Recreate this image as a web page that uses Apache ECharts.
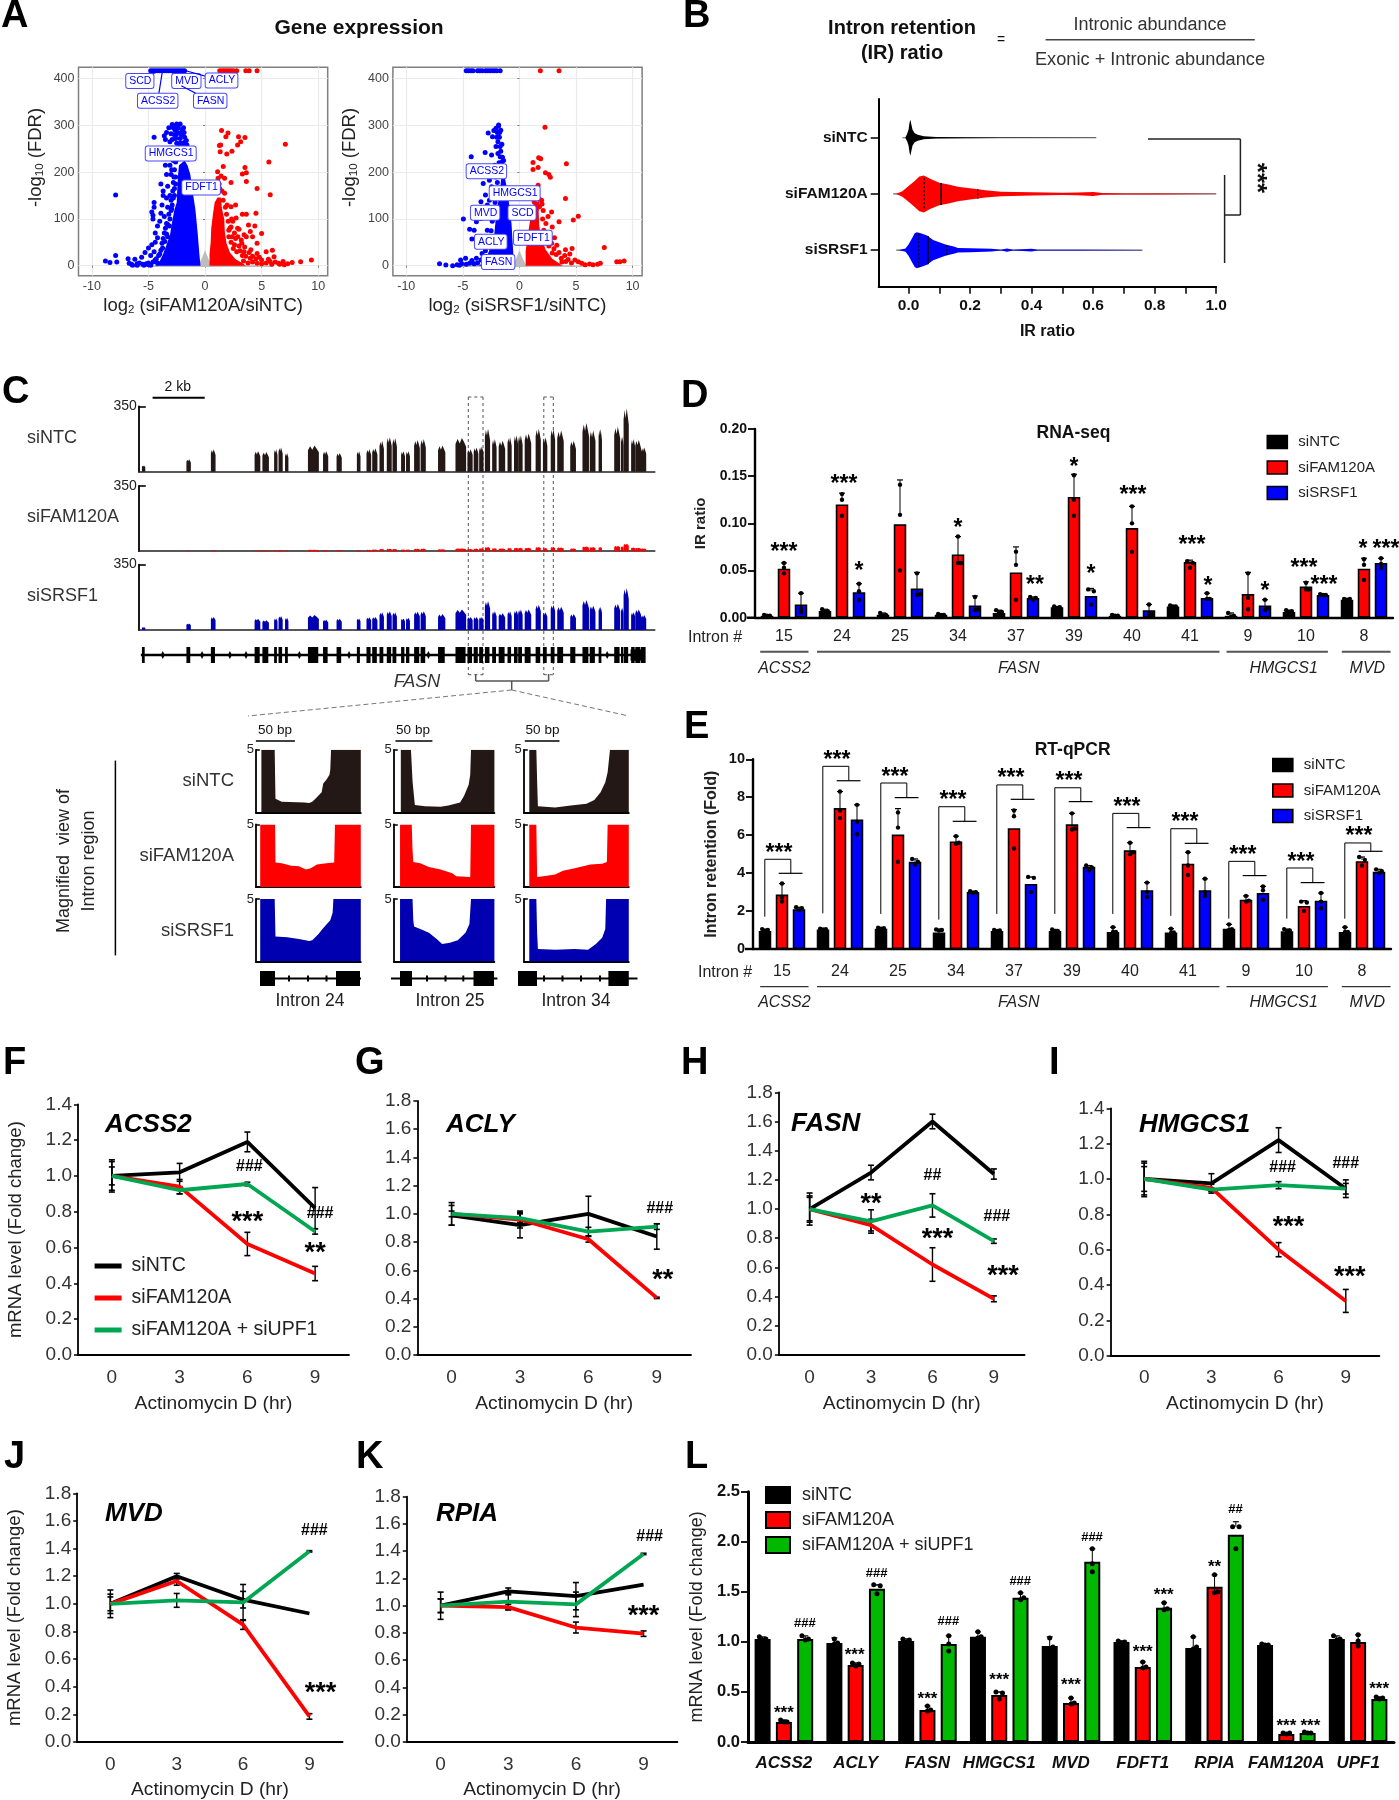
<!DOCTYPE html>
<html>
<head>
<meta charset="utf-8">
<title>FAM120A figure</title>
<script src="https://cdn.jsdelivr.net/npm/echarts@6/dist/echarts.min.js"></script>
<style>
html,body{margin:0;padding:0;background:#fff}
#chart{width:1399px;height:1800px}
</style>
</head>
<body>
<div id="chart"></div>
<script>
// ---- panel A, values
var top1Blue = [-4.8,-4.6,-4.4,-4.2,-4,-3.8,-3.6,-3.4,-3.2,-3,-2.8,-2.6,-2.4,-2.2,-2,-1.8];
var top1Red = [1.3,1.5,1.7,1.9,2.1,2.3,2.5,2.8,3.6,3.9,4.6];
var top2Blue = [-4.7,-4.5,-4.3,-4.1,-3.7,-3.5,-3.3,-3,-2.8,-2.6,-2.4,-2.2,-2,-1.7];
var top2Red = [1.85,3.5];
var blob1Blue = [[-4.4,0],[-4,10],[-3.7,25],[-3.4,45],[-3.1,65],[-2.9,95],[-2.7,120],[-2.5,135],[-2.45,165],[-2.4,190],[-2.3,215],[-1.8,225],[-1.55,215],[-1.3,195],[-1.1,160],[-0.85,120],[-0.65,70],[-0.5,25],[-0.4,0]];
var blob1Red = [[0.4,0],[0.4,25],[0.5,50],[0.55,80],[0.7,110],[0.85,135],[1.1,146],[1.4,146],[1.5,122],[1.7,100],[1.75,72],[1.9,48],[2.2,28],[2.7,14],[3.3,6],[3.6,0]];
var blob2Blue = [[-3.6,0],[-3.1,8],[-2.9,18],[-2.55,40],[-2.25,60],[-2.15,85],[-2.05,110],[-1.85,140],[-1.7,165],[-1.6,190],[-1.65,210],[-1.4,210],[-1.3,190],[-1.1,165],[-0.9,130],[-0.7,90],[-0.6,50],[-0.5,10],[-0.5,0]];
var blob2Red = [[0.55,0],[0.55,30],[0.7,60],[0.9,90],[1.1,120],[1.3,136],[1.8,138],[1.7,115],[1.75,85],[1.95,60],[2.3,35],[2.9,15],[3.5,5],[3.8,0]];
var greyFan = [[-6,0],[-0.55,3],[-0.3,15],[0,33],[0.3,15],[0.55,3],[6,0],[6,-3],[-6,-3]];
var dots1Blue = [[-8.8,10],[-8.4,7],[-7.9,22],[-7.8,8],[-7.9,151],[-6.8,15],[-6.7,5],[-6.5,3],[-6.2,14],[-6,4],[-5.6,18],[-5.5,3],[-5.2,4],[-5,2],[-5.3,28],[-5,38],[-4.8,22],[-4.7,45],[-4.5,30],[-4.4,50],[-4.6,100],[-4.7,115],[-4.5,125],[-4.5,135],[-4.6,108],[-4.4,70],[-4.2,60],[-4.2,85],[-4,95],[-3.9,112],[-3.8,130],[-3.7,150],[-3.7,160],[-3.9,175],[-3.5,80],[-3.6,105],[-3.3,125],[-3.4,145],[-3.3,170],[-3.4,195],[-3.5,215],[-3.3,235],[-4.5,275],[-3.5,270],[-3.6,278],[-3.4,285],[-3.2,295],[-2.9,302],[-2.7,298],[-2.5,303],[-2.2,303],[-2,290],[-2.4,285],[-2,280],[-1.8,275],[-2.9,270],[-2.7,280],[-2.2,272],[-1.9,262],[-2.5,262],[-2.9,252],[-1.6,258],[-3.1,215],[-3,195],[-2.8,178],[-3.1,150],[-3,140],[-2.7,150],[-3.2,110],[-3.4,90],
    [-6.4,1],[-6,1],[-5.8,6],[-5.4,1],[-5,6],[-4.8,1],[-4.6,8],[-4.4,12],[-4.2,6],[-4.1,22],[-3.9,33],[-3.8,48],[-3.7,58],[-3.6,70],[-3.4,68],[-3.3,88],[-3.1,100],[-3,118],[-2.9,130],[-2.8,145],[-2.7,165],[-2.6,190],[-2.7,205],[-2.8,225],[-2.6,222],[-2.5,240],[-2.3,235],[-2.2,250],[-2.05,240],[-2,262],[-1.85,245],[-1.7,240],[-1.55,235],[-1.5,228],[-2.4,228],[-2.1,232],[-2.3,255],[-1.75,255],[-1.65,268],[-2.6,272],[-2.35,295],[-2.65,290],[-1.9,295],[-2.8,295],
    [-2.2,262],[-2.45,250],[-2.7,240],[-2,250],[-1.95,232],[-2.15,282],[-1.75,265],[-2.55,280],[-1.85,285],[-3,282],[-3.1,265],[-2.85,238],[-2.95,205],[-2.75,190],[-2.6,175],[-2.85,160],[-2.95,122],[-3.15,85],[-3.3,62],[-3.55,52],[-3.75,38],[-4,25],[-4.3,15]];
var dots1Red = [[1.46,289],[2.03,284],[1.84,276],[2.96,276],[3.53,274],[3.15,265],[2.88,258],[1.38,258],[1.27,257],[7.1,260],[1.34,244],[2.38,245],[1.92,239],[5.64,222],[1.61,212],[3.53,210],[3.65,199],[3.3,196],[1.11,201],[1.42,192],[1.15,187],[1.73,187],[2.3,178],[3.65,180],[4.6,165],[5.76,152],[1.73,155],[2.7,130],[2.3,126],[3.3,110],[3.65,110],[4.5,112],[3.84,87],[4.4,85],[2.3,83],[2.88,80],[2.1,76],[4,73],[5,69],[3.45,66],[4.2,62],[2.7,58],[4.6,48],[5.4,30],[5.95,33],[6.1,19],[4.6,26],[6.9,9],[7.7,7],[8.45,8.5],[9.4,12],[3.25,48],[2.5,37],[3.45,30],[4,16],[5,12],[5.75,9],[6.5,5],
    [1.1,160],[1.3,165],[1.5,160],[1.25,175],[1.6,140],[1.8,125],[1.9,110],[2.05,95],[2.2,80],[2.1,62],[2.4,62],[2.6,70],[2.9,62],[2.3,50],[2.6,45],[3,42],[3.2,55],[3.5,40],[2.8,30],[3.1,32],[3.3,22],[3.6,20],[3.9,28],[4.2,20],[4.5,15],[4.8,18],[3.4,10],[3.8,6],[4.2,8],[4.6,5],[5,4],[5.4,6],[5.6,14],[5.9,3],[6.2,8],[6.6,3],[7,2],[7.3,4],[4.05,34],[2.45,95],[2.75,102],[1.95,130],[2.35,100],[3,78],[3.65,62]];
var dots2Blue = [[-7.06,4],[-6.5,1.5],[-5.9,0],[-5.3,1],[-5.2,12],[-4.76,16],[-4.2,11],[-3.8,16],[-3.3,26],[-4.95,100],[-3.8,94],[-4.4,78],[-4,76],[-4.2,57],[-3.4,137],[-2.84,130],[-3,151],[-2.65,140],[-4.26,233],[-3.03,242],[-2.76,284],[-2.26,289],[-2.07,294],[-1.84,299],[-1.84,301],[-2,275],[-1.77,275],[-2.38,276],[-2.07,255],[-1.7,255],[-1.9,240],[-2.46,237],[-1.7,233],[-3,197],[-3.2,176],[-2.65,183],[-2.46,169],[-3.4,101],[-2.84,76],[-2.2,215],[-2.5,205],[-2.1,190],[-2.4,150],[-2.7,110],[-3,60],
    [-5.5,2],[-5.1,4],[-4.7,3],[-4.4,5],[-4,4],[-3.7,6],[-3.4,12],[-3.2,18],[-3,32],[-2.8,45],[-2.6,55],[-2.5,75],[-2.4,95],[-2.3,120],[-2.15,135],[-2.1,160],[-1.95,178],[-1.9,200],[-1.8,220],[-1.55,222],[-1.5,232],[-1.4,225],[-1.65,245],[-1.9,265],[-1.55,260],[-1.75,285],[-1.95,285],[-1.65,290],[-1.35,212]];
var dots2Red = [[2.26,296],[1.7,231],[1.88,229],[1.2,221],[4.15,218],[1.65,210],[1.2,206],[2.3,199],[2.6,195],[2.73,189],[1.65,172],[4.07,144],[1.96,140],[1.3,137],[1.77,126],[2.84,115],[5.2,106],[4.76,98],[3.5,94],[2.53,105],[2.34,90],[2.9,83],[2.15,76],[7.5,39],[4.65,37],[4.07,34],[3.3,44],[4.45,25],[5.2,8.5],[6.2,3.5],[7.15,5],[8.6,8.5],[8.87,8.5],[9.25,10],[2.9,27],[3.7,16],[4.1,9],
    [1.5,145],[1.75,142],[2,132],[2.1,118],[2.05,100],[2.2,70],[2.45,55],[2.6,42],[2.85,48],[3.05,36],[3.25,24],[3.5,28],[3.75,8],[4,22],[4.3,13],[4.6,6],[4.9,12],[5.5,5],[5.8,2],[6.5,2],[6.9,3],[2.65,65],[3.1,60]];
var genes1 = [['SCD',-5.76,395,-4.1,417],['ACSS2',-4.18,353,-3.76,417],['MVD',-1.65,395,-3.2,417],['ACLY',1.46,396,-1.7,417],['FASN',0.46,353,-2.1,385],['HMGCS1',-3.03,240],['FDFT1',-0.35,167.5]];
var genes2 = [['ACSS2',-2.92,202],['HMGCS1',-0.42,155],['MVD',-3.03,113],['SCD',0.23,113],['ACLY',-2.53,51],['FDFT1',1.19,60],['FASN',-1.88,8]];

// ---- panel B, violin outlines: [IR ratio, half height in rows]
var violinNTC = [[-0.01,0.01],[-0.005,0.06],[0,0.14],[0.003,0.26],[0.006,0.32],[0.009,0.24],[0.013,0.14],[0.02,0.08],[0.03,0.055],[0.05,0.025],[0.09,0.012],[0.18,0.01],[0.3,0.004],[0.61,0.002]];
var violinFAM = [[-0.04,0.002],[-0.02,0.05],[0,0.14],[0.02,0.23],[0.035,0.31],[0.05,0.33],[0.07,0.27],[0.1,0.2],[0.13,0.17],[0.16,0.13],[0.2,0.1],[0.25,0.065],[0.3,0.04],[0.4,0.028],[0.5,0.02],[0.55,0.025],[0.6,0.035],[0.63,0.015],[0.7,0.01],[0.8,0.008],[1,0.002]];
var violinSRSF = [[-0.03,0.002],[-0.01,0.03],[0,0.1],[0.01,0.2],[0.02,0.3],[0.027,0.32],[0.04,0.3],[0.06,0.26],[0.08,0.18],[0.1,0.14],[0.12,0.1],[0.15,0.06],[0.16,0.04],[0.2,0.035],[0.27,0.025],[0.3,0.008],[0.32,0.03],[0.34,0.008],[0.4,0.025],[0.42,0.008],[0.55,0.006],[0.76,0.002]];
var violinMarksFAM = [[0.051,0.28,1],[0.106,0.195,0],[0.225,0.085,1]];
var violinMarksSRSF = [[0.033,0.3,1],[0.063,0.25,0],[0.124,0.09,1]];

// ---- panel C, FASN exons in kb and peak height per sample
var fasnExons = [[0.12,0.25],[1.83,2],[2.77,2.95],[4.45,4.67],[4.75,5],[5.2,5.33],[5.37,5.53],[5.62,5.75],[6.5,6.92],[7.08,7.28],[7.6,7.8],[8.38,8.52],[8.75,8.93],[8.97,9.17],[9.25,9.42],[9.53,9.72],[9.75,9.92],[10.08,10.23],[10.27,10.42],[10.58,10.8],[10.83,11.03],[11.5,11.78],[12.17,12.58],[12.63,12.83],[12.87,13.05],[13.08,13.25],[13.3,13.5],[13.58,13.75],[13.83,14.08],[14.17,14.33],[14.42,14.58],[14.58,14.75],[14.83,15.08],[15.25,15.45],[15.53,15.7],[15.83,16],[16.08,16.33],[16.58,16.8],[17.05,17.3],[17.33,17.55],[17.67,17.8],[18.27,18.5],[18.53,18.63],[18.63,18.83],[18.92,19.08],[19.08,19.3],[19.3,19.5]];
var smallExons = [0.92,2.43,3.5,4.12,6.17,8.08,11.13,18];
var peakNTC = [33,66,120,110,105,120,130,100,140,110,100,110,120,125,165,185,180,110,110,170,175,140,180,120,130,135,230,175,165,185,195,195,205,230,185,230,220,165,260,220,230,240,190,340,175,170,130];
var peakFAM = [1,2,4,4,4,5,6,5,8,6,6,7,8,9,12,13,12,9,9,13,14,11,15,12,14,16,22,16,15,17,18,18,18,22,17,22,20,15,25,22,22,28,26,40,20,18,15];
var peakSRSF = [15,35,70,60,52,62,75,65,80,55,60,62,68,70,95,100,95,62,65,98,100,85,110,70,70,70,155,100,90,100,105,110,110,135,95,135,125,85,160,130,125,140,120,225,95,110,80];
var cov24NTC = [[7,0],[7,5],[24,5],[25,1.1],[33,0.85],[62,0.8],[68,0.75],[72,0.85],[76,1.1],[84,1.6],[86,2.3],[90,2.6],[94,3],[95,3.4],[96,5],[134,5],[134,0]];
var cov24FAM = [[5.5,0],[5.5,5],[24.5,5],[25,1.95],[33,1.9],[45,1.7],[55,1.65],[64,1.4],[70,1.5],[78,1.8],[90,1.9],[100,1.95],[101,5],[134,5],[134,0]];
var cov24SRSF = [[5.5,0],[5.5,5],[24,5],[25,2],[40,1.95],[55,1.8],[68,1.65],[72,1.7],[80,2.2],[85,2.6],[95,3.3],[98,3.9],[99,5],[134,5],[134,0]];
var cov25NTC = [[9,0],[9,5],[22,5],[24,2.5],[27,0.6],[40,0.5],[60,0.45],[70,0.55],[85,0.8],[90,1.3],[96,2.2],[98,3],[99,5],[129,5],[129,0]];
var cov25FAM = [[8,0],[8,5],[23,5],[24,3],[25,2],[34,1.9],[45,1.6],[60,1.4],[75,1.1],[80,0.85],[98,0.8],[99,5],[129,5],[129,0]];
var cov25SRSF = [[8,0],[8,5],[24,5],[25,3.3],[26,2.8],[34,2.6],[45,2.3],[55,1.8],[62,1.4],[72,1.5],[82,1.7],[92,2.3],[97,3],[99,5],[129,5],[129,0]];
var cov34NTC = [[7,0],[7,5],[16,5],[17,2.5],[18,0.5],[40,0.4],[60,0.55],[80,0.7],[90,1],[98,1.6],[104,2.4],[107,3.2],[110,5],[134,5],[134,0]];
var cov34FAM = [[7,0],[7,5],[16,5],[17,0.8],[25,0.85],[40,1],[50,1.3],[65,1.5],[85,1.8],[100,1.85],[106,2],[107,5],[134,5],[134,0]];
var cov34SRSF = [[7,0],[7,5],[16,5],[17,2.3],[18,1],[40,0.95],[65,1],[82,0.95],[92,1.4],[100,1.9],[104,2.6],[105,5],[134,5],[134,0]];

// ---- panels D and E
var intronLabels = ['15','24','25','34','37','39','40','41','9','10','8'];
var dNTC = [0.002,0.007,0.003,0.003,0.005,0.011,0.002,0.012,0.002,0.006,0.019];
var dFAM = [0.052,0.12,0.099,0.067,0.048,0.128,0.095,0.059,0.025,0.033,0.052];
var dSRSF = [0.014,0.027,0.031,0.013,0.021,0.023,0.008,0.021,0.013,0.024,0.058];
var dNTCup = [0.003,0.009,0.005,0.004,0.008,0.012,0.003,0.013,0.005,0.008,0.02];
var dFAMup = [0.058,0.132,0.146,0.086,0.075,0.152,0.118,0.061,0.048,0.038,0.063];
var dSRSFup = [0.026,0.036,0.048,0.023,0.022,0.031,0.014,0.026,0.019,0.025,0.063];
var dNTCdots = [[0.003,0.002,0.002],[0.009,0.007,0.006],[0.005,0.003,0.002],[0.004,0.003,0.003],[0.008,0.006,0.005],[0.012,0.011,0.01],[0.003,0.002,0.002],[0.013,0.012,0.012],[0.005,0.002,0.001],[0.008,0.007,0.006],[0.02,0.02,0.019]];
var dFAMdots = [[0.058,0.053,0.047],[0.131,0.125,0.108],[0.141,0.109,0.05],[0.086,0.058,0.058],[0.07,0.056,0.019],[0.151,0.125,0.108],[0.118,0.1,0.07],[0.06,0.058,0.053],[0.047,0.021,0.009],[0.037,0.03,0.03],[0.062,0.056,0.04]];
var dSRSFdots = [[0.026,0.01,0.006],[0.036,0.028,0.019],[0.047,0.025,0.024],[0.022,0.009,0.008],[0.022,0.021,0.019],[0.03,0.028,0.014],[0.014,0.004,0.004],[0.026,0.02,0.02],[0.019,0.01,0.008],[0.025,0.024,0.024],[0.063,0.057,0.053]];
var dStars = [[0,0.074,'***',0],[1,0.146,'***',2],[1,0.054,'*',17],[3,0.099,'*',0],[5,0.164,'*',0],[5,0.05,'*',17],[4,0.039,'**',19],[6,0.134,'***',1],[7,0.081,'***',2],[7,0.038,'*',18],[8,0.033,'*',17],[9,0.057,'***',-2],[9,0.039,'***',18],[10,0.077,'*',-1],[10,0.077,'***',22]];

var eNTC = [0.95,1.03,1.07,0.87,0.95,0.95,0.9,0.87,1.07,0.93,0.9];
var eFAM = [2.87,7.43,6.03,5.67,6.37,6.57,5.2,4.5,2.6,2.27,4.63];
var eSRSF = [2.1,6.83,4.6,3,3.43,4.33,3.1,3.1,2.95,2.55,4.07];
var eNTCup = [1.05,1.07,1.12,1.05,1,1.03,1.15,1.07,1.3,1.05,1.15];
var eFAMup = [3.45,8.3,7.4,5.95,7.35,7.15,5.6,5.1,2.8,2.55,4.85];
var eSRSFup = [2.2,7.6,4.75,3.05,3.8,4.4,3.5,3.7,3.3,2.95,4.2];
var eNTCdots = [[1.05,1,0.95],[1.07,1.05,1.03],[1.12,1.1,1.07],[1.03,1,0.97],[1,0.98,0.95],[1.03,0.95,0.95],[1.15,0.9,0.9],[1.07,0.87,0.85],[1.3,1.05,1],[1.05,0.98,0.95],[1.15,0.9,0.9]];
var eFAMdots = [[3.45,2.7,2.5],[8.3,7.3,6.9],[7.2,6.4,4.6],[5.95,5.6,5.55],[7.3,7,5.3],[7.15,6.35,6.3],[5.6,5.1,5],[5.1,4.4,3.9],[2.8,2.55,2.5],[2.5,2.45,2],[4.85,4.7,4.4]];
var eSRSFdots = [[2.2,2.15,2.05],[7.6,6.7,6.05],[4.75,4.6,4.45],[3.05,3,2.95],[3.8,3.75,3],[4.4,4.3,4.15],[3.5,3,2.75],[3.7,3,2.8],[3.3,3.1,2.6],[2.95,2.5,2.15],[4.2,4.1,4]];
var eBracketTop = [4.73,9.63,8.75,7.5,8.65,8.5,7.15,6.34,4.62,4.27,5.59];
var eBracketMid = [3.99,8.87,7.98,6.73,7.89,7.77,6.4,5.57,3.87,3.5,5.15];
var eBracketLow = [1.7,1.88,1.85,1.55,1.85,1.85,1.85,1.75,1.6,1.6,1.6];

// ---- panels F to K, decay curves
var hours = ['0','3','6','9'];
var fNTC = [1,1.02,1.19,0.82], fFAM = [1,0.94,0.62,0.455], fUPF = [1,0.92,0.955,0.69];
var fNTCerr = [0.09,0.05,0.055,0.115], fFAMerr = [0.05,0.04,0.065,0.04], fUPFerr = [0.08,0.02,0.01,0.015];
var gNTC = [0.99,0.92,1,0.84], gFAM = [1,0.96,0.82,0.405], gUPF = [1,0.97,0.875,0.91];
var gNTCerr = [0.07,0.09,0.125,0.09], gFAMerr = [0.08,0.06,0.02,0.005], gUPFerr = [0.02,0.03,0.03,0.02];
var hNTC = [1,1.25,1.6,1.24], hFAM = [1,0.89,0.62,0.385], hUPF = [1,0.915,1.025,0.78];
var hNTCerr = [0.11,0.05,0.05,0.035], hFAMerr = [0.09,0.04,0.115,0.02], hUPFerr = [0.08,0.08,0.08,0.015];
var iNTC = [1,0.975,1.22,0.945], iFAM = [1,0.95,0.6,0.31], iUPF = [1,0.94,0.965,0.945];
var iNTCerr = [0.1,0.055,0.07,0.03], iFAMerr = [0.09,0.02,0.04,0.065], iUPFerr = [0.07,0.01,0.02,0.05];
var jNTC = [1,1.2,1.03,0.93], jFAM = [1,1.165,0.85,0.185], jUPF = [1,1.025,1.01,1.38];
var jNTCerr = [0.07,0.02,0.06,0], jFAMerr = [0.05,0.03,0.035,0.02], jUPFerr = [0.1,0.05,0.13,0.005];
var kNTC = [1,1.105,1.07,1.155], kFAM = [1,0.99,0.84,0.795], kUPF = [1,1.03,1.01,1.38];
var kNTCerr = [0.1,0.025,0.1,0], kFAMerr = [0.05,0.02,0.04,0.02], kUPFerr = [0.05,0.06,0.09,0.005];
var fMarks = [[2,1.05,'###',2],[2,0.77,'***',0],[3,0.79,'###',5],[3,0.595,'**',0]];
var gMarks = [[3,1.04,'###',3],[3,0.567,'**',6]];
var hMarks = [[1,1.07,'**',0],[2,1.23,'##',0],[2,0.827,'***',5],[3,0.948,'###',3],[3,0.575,'***',9]];
var iMarks = [[2,1.066,'###',4],[3,1.089,'###',0],[2,0.755,'***',10],[3,0.475,'***',4]];
var jMarks = [[3,1.53,'###',5],[3,0.39,'***',11]];
var kMarks = [[3,1.505,'###',6],[3,0.96,'***',0]];

// ---- panel L
var lGenes = ['ACSS2','ACLY','FASN','HMGCS1','MVD','FDFT1','RPIA','FAM120A','UPF1'];
var lNTC = [1.03,0.99,1.01,1.05,0.96,1,0.94,0.97,1.03];
var lFAM = [0.2,0.77,0.32,0.47,0.39,0.75,1.55,0.08,1];
var lUPF = [1.03,1.53,0.98,1.44,1.8,1.34,2.07,0.09,0.43];
var lNTCup = [1.05,1.04,1.03,1.1,1.05,1.01,1.05,0.98,1.06];
var lFAMup = [0.22,0.79,0.36,0.5,0.44,0.8,1.67,0.09,1.07];
var lUPFup = [1.06,1.57,1.06,1.49,1.93,1.39,2.2,0.1,0.45];
var lNTCdots = [[1.05,1.03,1.02],[1.03,0.99,0.98],[1.03,1.02,1],[1.1,1.05,1.04],[1.04,0.95,0.92],[1.01,1,0.99],[1.05,0.95,0.93],[0.98,0.97,0.97],[1.06,1.03,1.02]];
var lFAMdots = [[0.22,0.2,0.2],[0.79,0.78,0.76],[0.36,0.32,0.31],[0.5,0.49,0.43],[0.44,0.39,0.38],[0.8,0.75,0.74],[1.67,1.5,1.49],[0.09,0.09,0.08],[1.07,1.01,0.96]];
var lUPFdots = [[1.06,1.03,1.02],[1.57,1.56,1.48],[1.06,0.98,0.91],[1.49,1.44,1.42],[1.93,1.78,1.7],[1.39,1.33,1.32],[2.15,2.15,1.93],[0.1,0.09,0.09],[0.45,0.44,0.43]];
var lMarks = [[0,0.32,'***',0],[1,0.9,'***',-1],[2,0.46,'***',0],[3,0.65,'***',0],[4,0.6,'***',0],[5,0.925,'***',0],[6,1.78,'**',0],[7,0.19,'***',0],[0,1.185,'###',21],[1,1.68,'###',21],[2,1.2,'###',21],[3,1.6,'###',21],[4,2.04,'###',21],[5,1.5,'***',21],[6,2.32,'##',21],[7,0.19,'***',24],[8,0.56,'***',21]];

var FONT = 'Liberation Sans';
var RED = '#ff0000', BLUE = '#0000ff', DARKBLUE = '#0000b0', INK = '#231815';
var LINE_GREEN = '#00a651', BAR_GREEN = '#00b800';
var grids = [], xAxes = [], yAxes = [], series = [], legends = [], gfx = [];

function addGrid(left, top, width, height, xa, ya) {
    var i = grids.length;
    grids.push({left: left, top: top, width: width, height: height});
    xa.gridIndex = i; ya.gridIndex = i;
    xAxes.push(xa); yAxes.push(ya);
    return i;
}
// custom series with one item per entry of list; draw(entry, api, index) returns a graphic element
function overlay(gi, list, draw, z) {
    series.push({
        type: 'custom', coordinateSystem: 'cartesian2d', xAxisIndex: gi, yAxisIndex: gi,
        silent: true, z: z || 3, animation: false,
        data: list.map(function () { return [0, 0]; }),
        renderItem: function (params, api) { return draw(list[params.dataIndex], api, params.dataIndex); }
    });
}
function polygon(gi, pts, color, z) {
    overlay(gi, [pts], function (p, api) {
        return {type: 'polygon', shape: {points: p.map(function (v) { return api.coord(v); })}, style: {fill: color}};
    }, z);
}
function seg(a, b, stroke, w) {
    return {type: 'line', shape: {x1: a[0], y1: a[1], x2: b[0], y2: b[1]}, style: {stroke: stroke || '#000', lineWidth: w || 1}};
}
// ---- fixed annotations placed on the page
function gText(x, y, s, size, opt) {
    opt = opt || {};
    gfx.push({type: 'text', x: x, y: y, rotation: opt.rot || 0, silent: true, style: {
        text: s, fontFamily: FONT, fontSize: size, fontWeight: opt.bold ? 'bold' : 'normal',
        fontStyle: opt.italic ? 'italic' : 'normal', fill: opt.color || '#111',
        align: opt.align || 'center', verticalAlign: 'middle'}});
}
function gLine(x1, y1, x2, y2, color, w, dash) {
    gfx.push({type: 'line', silent: true, shape: {x1: x1, y1: y1, x2: x2, y2: y2},
        style: {stroke: color || '#000', lineWidth: w || 1, lineDash: dash || null}});
}
function gRect(x, y, w, h, fill) {
    gfx.push({type: 'rect', silent: true, shape: {x: x, y: y, width: w, height: h}, style: {fill: fill || '#000'}});
}

// ---- panel letters
[['A',1,17],['B',683,17],['C',2,393],['D',681,397],['E',684,728],['F',3,1064],['G',355,1064],['H',681,1064],['I',1049,1064],['J',4,1458],['K',356,1458],['L',685,1458]].forEach(function (l) {
    gText(l[1], l[2], l[0], 38, {bold: true, align: 'left', color: '#000'});
});

// ---- panel A
gText(359, 28, 'Gene expression', 21, {bold: true});
function volcano(left, xName, blobBlue, blobRed, dotsBlue, dotsRed, topBlue, topRed, genes) {
    var gridLine = {show: true, lineStyle: {color: '#ebebeb', width: 1.2}};
    var richName = {t: {fontFamily: FONT, fontSize: 18.5, color: '#222'}, s: {fontFamily: FONT, fontSize: 11.5, color: '#222', padding: [7, 0, 0, 0]}};
    var tickFont = {fontFamily: FONT, fontSize: 12.5, color: '#444', margin: 4};
    var gi = addGrid(left, 67.3, 249.2, 208.4, {
        type: 'value', min: -11.18, max: 10.84, name: xName, nameLocation: 'middle', nameGap: 21,
        nameTextStyle: {rich: richName}, axisLine: {show: false},
        axisLabel: Object.assign({customValues: [-10, -5, 0, 5, 10]}, tickFont),
        axisTick: {customValues: [-10, -5, 0, 5, 10], length: 2, lineStyle: {color: '#777'}}, splitLine: gridLine
    }, {
        type: 'value', min: -21.4, max: 424.4, name: '{t|-log}{s|10}{t| (FDR)}', nameLocation: 'middle', nameGap: 33,
        nameTextStyle: {rich: richName, padding: [0, 0, 0, 28]}, axisLine: {show: false},
        axisLabel: Object.assign({customValues: [0, 100, 200, 300, 400]}, tickFont),
        axisTick: {customValues: [0, 100, 200, 300, 400], length: 2, lineStyle: {color: '#777'}}, splitLine: gridLine
    });
    grids[gi].show = true; grids[gi].borderColor = '#7f7f7f'; grids[gi].borderWidth = 1.5; grids[gi].backgroundColor = '#fff';
    function dots(name, pts, color) {
        series.push({name: name, type: 'scatter', xAxisIndex: gi, yAxisIndex: gi, data: pts, symbolSize: 5, z: 4,
            itemStyle: {color: color, opacity: 1}, silent: true});
    }
    polygon(gi, greyFan, '#bdbdbd', 2);
    polygon(gi, blobBlue, BLUE, 3);
    polygon(gi, blobRed, RED, 3);
    dots('down', dotsBlue.concat(topBlue.map(function (x) { return [x, 417]; })), BLUE);
    dots('up', dotsRed.concat(topRed.map(function (x) { return [x, 417]; })), RED);
    overlay(gi, genes, function (g, api) {
        var p = api.coord([g[1], g[2]]);
        var children = [];
        if (g.length > 3) children.push(seg(p, api.coord([g[3], g[4]]), BLUE, 1.2));
        children.push({type: 'text', x: p[0], y: p[1], style: {
            text: g[0], fontFamily: FONT, fontSize: 10.5, fill: BLUE, align: 'center', verticalAlign: 'middle',
            backgroundColor: '#fff', borderColor: '#4a4aff', borderWidth: 1, borderRadius: 2, padding: [2, 2, 1, 3]}});
        return {type: 'group', children: children};
    }, 6);
}
volcano(78.5, '{t|log}{s|2}{t| (siFAM120A/siNTC)}', blob1Blue, blob1Red, dots1Blue, dots1Red, top1Blue, top1Red, genes1);
volcano(392.9, '{t|log}{s|2}{t| (siSRSF1/siNTC)}', blob2Blue, blob2Red, dots2Blue, dots2Red, top2Blue, top2Red, genes2);

// ---- panel B
gText(902, 28, 'Intron retention', 20, {bold: true});
gText(902, 53, '(IR) ratio', 20, {bold: true});
gText(1001, 40, '=', 14);
gText(1150, 25, 'Intronic abundance', 18, {color: '#333'});
gLine(1045.6, 39.7, 1254.8, 39.7, '#444', 1.5);
gText(1150, 60, 'Exonic + Intronic abundance', 18.2, {color: '#333'});
var violinRows = ['siNTC', 'siFAM120A', 'siSRSF1'];
var bGi = addGrid(878.7, 99, 337.5, 187.7, {
    type: 'value', min: -0.097, max: 1, name: 'IR ratio', nameLocation: 'middle', nameGap: 37,
    nameTextStyle: {fontFamily: FONT, fontSize: 16, fontWeight: 'bold', color: '#111'},
    axisLine: {lineStyle: {color: '#000', width: 2}},
    axisTick: {customValues: [0, 0.1, 0.2, 0.3, 0.4, 0.5, 0.6, 0.7, 0.8, 0.9, 1], length: 7, lineStyle: {color: '#000', width: 1.5}},
    axisLabel: {customValues: [0, 0.2, 0.4, 0.6, 0.8, 1], fontFamily: FONT, fontSize: 15.5, fontWeight: 'bold', color: '#111', margin: 11, formatter: function (v) { return v.toFixed(1); }},
    splitLine: {show: false}
}, {
    type: 'value', inverse: true, min: 0.311, max: 3.65,
    axisLine: {onZero: false, lineStyle: {color: '#000', width: 2}},
    axisTick: {customValues: [1, 2, 3], length: 8, lineStyle: {color: '#000', width: 1.5}},
    axisLabel: {customValues: [1, 2, 3], fontFamily: FONT, fontSize: 15.5, fontWeight: 'bold', color: '#111', margin: 11, formatter: function (v) { return violinRows[v - 1]; }},
    splitLine: {show: false}
});
function violin(row, outline, marks, color) {
    overlay(bGi, [outline], function (o, api) {
        var upper = o.map(function (v) { return api.coord([v[0], row - v[1]]); });
        var lower = o.map(function (v) { return api.coord([v[0], row + v[1]]); }).reverse();
        var children = [
            seg(api.coord([o[0][0] - 0.01, row]), api.coord([o[o.length - 1][0], row]), '#666', 1.2),
            {type: 'polygon', shape: {points: upper.concat(lower)}, style: {fill: color}}
        ];
        marks.forEach(function (m) {
            var s = seg(api.coord([m[0], row - m[1]]), api.coord([m[0], row + m[1]]), '#000', m[2] ? 1.2 : 1.6);
            if (m[2]) s.style.lineDash = [2, 2];
            children.push(s);
        });
        return {type: 'group', children: children};
    });
}
violin(1, violinNTC, [], '#000');
violin(2, violinFAM, violinMarksFAM, RED);
violin(3, violinSRSF, violinMarksSRSF, BLUE);
gLine(1148, 139, 1240.4, 139, '#222', 1.5);
gLine(1240.4, 139, 1240.4, 215, '#222', 1.5);
gLine(1224.6, 215, 1240.4, 215, '#222', 1.5);
gLine(1224.6, 175, 1224.6, 263, '#222', 1.5);
gText(1256, 178, '***', 26, {bold: true, rot: -Math.PI / 2});

// ---- panel C, read tracks
gText(177.8, 387, '2 kb', 14);
gLine(152.6, 397.8, 204.7, 397.8, '#000', 2);
gText(27, 438.4, 'siNTC', 18, {align: 'left', color: '#333'});
gText(27, 517, 'siFAM120A', 18, {align: 'left', color: '#333'});
gText(27, 596, 'siSRSF1', 18, {align: 'left', color: '#333'});
function track(top, heights, color) {
    var gi = addGrid(138.8, top, 516, 65.4, {
        type: 'value', min: 0, max: 19.83, show: true, axisLine: {onZero: true, lineStyle: {color: '#222', width: 1.6}},
        axisTick: {show: false}, axisLabel: {show: false}, splitLine: {show: false}
    }, {
        type: 'value', min: 0, max: 350, axisLine: {lineStyle: {color: '#000', width: 1.8}},
        axisTick: {customValues: [350], inside: true, length: 7, lineStyle: {color: '#000', width: 1.6}},
        axisLabel: {customValues: [350], fontFamily: FONT, fontSize: 14, color: '#222', margin: 2},
        splitLine: {show: false}
    });
    overlay(gi, fasnExons, function (e, api, i) {
        var h = heights[i];
        var a = e[0], w = e[1] - e[0];
        return {type: 'polygon', shape: {points: [
            api.coord([a, 0]), api.coord([a, h * 0.82]), api.coord([a + w * 0.2, h * 0.97]), api.coord([a + w * 0.4, h * 0.84]),
            api.coord([a + w * 0.6, h]), api.coord([a + w * 0.8, h * 0.88]), api.coord([a + w, h * 0.74]), api.coord([a + w, 0])]}, style: {fill: color}};
    });
}
track(406.3, peakNTC, INK);
track(485.8, peakFAM, RED);
track(564.6, peakSRSF, DARKBLUE);
var geneGi = addGrid(138.8, 647, 516, 16, {
    type: 'value', min: 0, max: 19.83, show: false
}, {type: 'value', min: 0, max: 1, show: false});
overlay(geneGi, fasnExons, function (e, api) {
    var a = api.coord([e[0], 1]), b = api.coord([e[1], 0]);
    return {type: 'rect', shape: {x: a[0], y: a[1], width: Math.max(b[0] - a[0] - 0.6, 2), height: b[1] - a[1]}, style: {fill: '#000'}};
});
overlay(geneGi, smallExons, function (x, api) {
    var c = api.coord([x, 0.5]);
    return {type: 'polygon', shape: {points: [[c[0] - 2, c[1]], [c[0], c[1] - 4], [c[0] + 2, c[1]], [c[0], c[1] + 4]]}, style: {fill: '#000'}};
});
overlay(geneGi, [[0.08, 19.45]], function (r, api) {
    return seg(api.coord([r[0], 0.5]), api.coord([r[1], 0.5]), '#000', 2.5);
});
overlay(geneGi, [[18.9, 19.45]], function (r, api) {
    var a = api.coord([r[0], 0.85]), b = api.coord([r[1], 0.15]);
    return {type: 'rect', shape: {x: a[0], y: a[1], width: b[0] - a[0], height: b[1] - a[1]}, style: {fill: '#000'}};
});
gText(417, 682, 'FASN', 18, {italic: true, color: '#333'});
gLine(468.3, 397, 483, 397, '#555', 1, [3, 3]);
gLine(468.3, 397, 468.3, 674.7, '#555', 1, [3, 3]);
gLine(483, 397, 483, 674.7, '#555', 1, [3, 3]);
gLine(543.8, 397, 553.3, 397, '#555', 1, [3, 3]);
gLine(543.8, 397, 543.8, 674.7, '#555', 1, [3, 3]);
gLine(553.3, 397, 553.3, 674.7, '#555', 1, [3, 3]);
gLine(468.3, 674.7, 483, 674.7, '#555', 1, [3, 3]);
gLine(543.8, 674.7, 553.3, 674.7, '#555', 1, [3, 3]);
gLine(475.7, 674, 475.7, 681, '#555', 1.5);
gLine(548.6, 674, 548.6, 681, '#555', 1.5);
gLine(475.7, 681, 548.6, 681, '#555', 1.5);
gLine(511.7, 681, 511.7, 690, '#555', 1.5);
gLine(511.7, 690, 248, 716, '#777', 1, [5, 3]);
gLine(511.7, 690, 628.8, 716, '#777', 1, [5, 3]);

// ---- panel C, magnified introns
var covColumns = [
    {left: 255.9, right: 360.8, maxBp: 134, rows: [cov24NTC, cov24FAM, cov24SRSF]},
    {left: 393.8, right: 494.4, maxBp: 129, rows: [cov25NTC, cov25FAM, cov25SRSF]},
    {left: 523.8, right: 628.8, maxBp: 134, rows: [cov34NTC, cov34FAM, cov34SRSF]}
];
var covTops = [749.8, 824.4, 899];
var covColors = [INK, RED, DARKBLUE];
covColumns.forEach(function (col) {
    col.rows.forEach(function (pts, r) {
        var gi = addGrid(col.left, covTops[r], col.right - col.left, 62.6, {
            type: 'value', min: 0, max: col.maxBp, axisLine: {lineStyle: {color: '#000', width: 1.8}},
            axisTick: {show: false}, axisLabel: {show: false}, splitLine: {show: false}
        }, {
            type: 'value', min: 0, max: 5, axisLine: {lineStyle: {color: '#000', width: 1.8}},
            axisTick: {customValues: [5], inside: true, length: 4, lineStyle: {color: '#000', width: 1.5}},
            axisLabel: {customValues: [5], fontFamily: FONT, fontSize: 13, color: '#222', margin: 2},
            splitLine: {show: false}
        });
        series.push({type: 'line', xAxisIndex: gi, yAxisIndex: gi, data: pts, symbol: 'none', silent: true,
            lineStyle: {width: 0}, areaStyle: {color: covColors[r], opacity: 1}});
    });
});
[[255.9, 294.9, 275], [395.5, 432.4, 413], [524.8, 559.5, 542.5]].forEach(function (b) {
    gLine(b[0], 741, b[1], 741, '#000', 1.6);
    gText(b[2], 730, '50 bp', 13.5);
});
gText(234, 781, 'siNTC', 18.5, {align: 'right', color: '#333'});
gText(234, 856, 'siFAM120A', 18.5, {align: 'right', color: '#333'});
gText(234, 931, 'siSRSF1', 18.5, {align: 'right', color: '#333'});
gText(64, 861, 'Magnified  view of', 18, {rot: Math.PI / 2, color: '#222'});
gText(89, 861, 'Intron region', 18, {rot: Math.PI / 2, color: '#222'});
gLine(115.4, 760.6, 115.4, 955.4, '#000', 1.5);
[
    {line: [260, 361], boxes: [[260, 275], [336, 360]], ticks: [289, 308, 326.5]},
    {line: [391, 497.4], boxes: [[400, 412], [473.5, 494]], ticks: [427, 445.5, 463.3]},
    {line: [518, 637.5], boxes: [[518, 537], [608.4, 628.8]], ticks: [544, 562.5, 581, 600]}
].forEach(function (m) {
    gLine(m.line[0], 978.6, m.line[1], 978.6, '#000', 2);
    m.boxes.forEach(function (b) { gRect(b[0], 971, b[1] - b[0], 15); });
    m.ticks.forEach(function (t) { gRect(t - 1, 975.5, 2, 6); });
});
gText(310, 1001, 'Intron 24', 17.5, {color: '#222'});
gText(450, 1001, 'Intron 25', 17.5, {color: '#222'});
gText(576, 1001, 'Intron 34', 17.5, {color: '#222'});

// ---- grouped bars with points, used by D, E and L
function errorDots(gi, offset, ups, dots, radius) {
    overlay(gi, ups, function (up, api, i) {
        var top = api.coord([i, up]);
        var x = top[0] + offset;
        var ys = dots[i].map(function (v) { return api.coord([i, v])[1]; });
        var base = api.coord([i, dots[i][1]])[1];
        var children = [seg([x, base], [x, top[1]], '#000', 1), seg([x - 3, top[1]], [x + 3, top[1]], '#000', 1.2)];
        ys.forEach(function (y, k) {
            var crowded = ys.some(function (o, q) { return q !== k && Math.abs(o - y) < radius * 1.6; });
            var dx = crowded ? [-radius * 1.3, radius * 1.3, 0][k] : 0;
            children.push({type: 'circle', shape: {cx: x + dx, cy: y, r: radius}, style: {fill: '#000'}});
        });
        return {type: 'group', children: children};
    }, 5);
}
function stars(gi, marks, starSize, hashSize, z) {
    overlay(gi, marks, function (m, api) {
        var p = api.coord([m[0], m[1]]);
        var isHash = m[2].charAt(0) === '#';
        var size = isHash ? hashSize : starSize;
        return {type: 'text', x: p[0] + m[3], y: p[1] + (isHash ? 0 : size * 0.2), style: {
            text: m[2], fontFamily: FONT, fontSize: size, fontWeight: 'bold', fill: '#000',
            align: 'center', verticalAlign: 'middle'}};
    }, z || 7);
}
function barAxes(left, top, width, height, cats, maxV, step, digits, labelFont, labelColor, tickFont, name, nameGap, nameFont, cfg) {
    return addGrid(left, top, width, height, {
        type: 'category', data: cats, boundaryGap: true,
        axisLine: {lineStyle: {color: '#000', width: cfg.axisW}},
        axisTick: {alignWithLabel: true, length: cfg.tickLen, lineStyle: {color: '#000', width: 1.8}},
        axisLabel: Object.assign({interval: 0, margin: cfg.margin, color: labelColor, fontFamily: FONT}, labelFont)
    }, {
        type: 'value', min: 0, max: maxV, interval: step, name: name, nameLocation: 'middle', nameGap: nameGap,
        nameTextStyle: Object.assign({fontFamily: FONT, color: '#222'}, nameFont),
        axisLine: {show: true, lineStyle: {color: '#000', width: cfg.axisW}},
        axisTick: {show: true, length: 7, lineStyle: {color: '#000', width: 1.8}},
        axisLabel: Object.assign({color: '#111', margin: 8, fontFamily: FONT, formatter: function (v) { return v.toFixed(digits); }}, tickFont),
        splitLine: {show: false}
    });
}
function bars(gi, name, values, color, width, gap, border) {
    series.push({name: name, type: 'bar', xAxisIndex: gi, yAxisIndex: gi, data: values, barWidth: width, barGap: gap, silent: true,
        itemStyle: {color: color, borderColor: '#000', borderWidth: border}, z: 3});
}
function barLegend(left, top, gap, w, h, size, third, thirdColor, border, textGap) {
    legends.push({
        left: left, top: top, orient: 'vertical', padding: 0, itemGap: gap, itemWidth: w, itemHeight: h, selectedMode: false,
        textStyle: {fontFamily: FONT, fontSize: size, color: '#222', padding: [0, 0, 0, textGap]},
        data: [
            {name: 'siNTC', icon: 'rect', itemStyle: {color: '#000', borderColor: '#000', borderWidth: border}},
            {name: 'siFAM120A', icon: 'rect', itemStyle: {color: RED, borderColor: '#000', borderWidth: border}},
            {name: third, icon: 'rect', itemStyle: {color: thirdColor, borderColor: '#000', borderWidth: border}}
        ]
    });
}
// gene group rules under the D and E axes
function geneRules(ruleY, labelY, weight, color) {
    [[760.2, 808.5, 784.4, 'ACSS2'], [817, 1219.5, 1018.7, 'FASN'], [1226.5, 1327.9, 1283.7, 'HMGCS1'], [1341.8, 1390.6, 1367.4, 'MVD']].forEach(function (g) {
        gLine(g[0], ruleY, g[1], ruleY, color, weight);
        gText(g[2], labelY, g[3], 16, {italic: true, color: '#222'});
    });
}
var BAR_CFG = {axisW: 2.4, tickLen: 5, margin: 11};

// ---- panel D
gText(1073.5, 433, 'RNA-seq', 17.5, {bold: true});
var dGi = barAxes(755, 429, 638, 188.7, intronLabels, 0.2, 0.05, 2, {fontSize: 16}, '#222', {fontSize: 14, fontWeight: 'bold'}, 'IR ratio', 47, {fontSize: 15, fontWeight: 'bold'}, BAR_CFG);
bars(dGi, 'siNTC', dNTC, '#000', 12.5, '36%', 1.2);
bars(dGi, 'siFAM120A', dFAM, RED, 12.5, '36%', 1.6);
bars(dGi, 'siSRSF1', dSRSF, BLUE, 12.5, '36%', 1.6);
errorDots(dGi, -17, dNTCup, dNTCdots, 2.2);
errorDots(dGi, 0, dFAMup, dFAMdots, 2.2);
errorDots(dGi, 17, dSRSFup, dSRSFdots, 2.2);
stars(dGi, dStars, 23, 14);
barLegend(1266.5, 434.5, 10.5, 20, 13, 15, 'siSRSF1', BLUE, 1.6, 6);
gText(688, 637.5, 'Intron #', 16, {align: 'left', color: '#222'});
gLine(746.7, 617.7, 755, 617.7, '#000', 2.4);
geneRules(651.7, 668.7, 2, '#555');

// ---- panel E
gText(1072.6, 750, 'RT-qPCR', 17.5, {bold: true});
var eCfg = {axisW: 2.4, tickLen: 5, margin: 15};
var eGi = barAxes(753, 759.3, 638, 189.7, intronLabels, 10, 2, 0, {fontSize: 16}, '#222', {fontSize: 14.5, fontWeight: 'bold'}, 'Intron retention (Fold)', 33, {fontSize: 16, fontWeight: 'bold'}, eCfg);
bars(eGi, 'siNTC', eNTC, '#000', 12.5, '36%', 1.2);
bars(eGi, 'siFAM120A', eFAM, RED, 12.5, '36%', 1.6);
bars(eGi, 'siSRSF1', eSRSF, BLUE, 12.5, '36%', 1.6);
errorDots(eGi, -17, eNTCup, eNTCdots, 2.2);
errorDots(eGi, 0, eFAMup, eFAMdots, 2.2);
errorDots(eGi, 17, eSRSFup, eSRSFdots, 2.2);
overlay(eGi, eBracketTop, function (topV, api, i) {
    var t = api.coord([i, topV]), m = api.coord([i, eBracketMid[i]]), b = api.coord([i, eBracketLow[i]]);
    var x = t[0];
    return {type: 'group', children: [
        seg([x - 17.2, b[1]], [x - 17.2, t[1]], '#000', 1),
        seg([x - 17.2, t[1]], [x + 8.8, t[1]], '#000', 1),
        seg([x + 8.8, t[1]], [x + 8.8, m[1]], '#000', 1),
        seg([x - 3.3, m[1]], [x + 20.5, m[1]], '#000', 1.2)
    ]};
}, 4);
stars(eGi, eBracketTop.map(function (v, i) { return [i, v + 0.55, '***', -3]; }), 23, 14);
barLegend(1272, 757.5, 10.5, 20, 13, 15, 'siSRSF1', BLUE, 1.6, 6);
gText(698, 972.7, 'Intron #', 16, {align: 'left', color: '#222'});
gLine(745, 949, 753, 949, '#000', 2.4);
geneRules(986.7, 1002.7, 1.2, '#333');

// ---- panels F to K
function decay(left, top, width, height, maxV, title, titleX, titleY, ntc, fam, upf, ntcErr, famErr, upfErr, marks, yName, nameGapX) {
    var gi = addGrid(left, top, width, height, {
        type: 'category', data: hours, boundaryGap: true, name: 'Actinomycin D (hr)', nameLocation: 'middle', nameGap: nameGapX,
        nameTextStyle: {fontFamily: FONT, fontSize: 19.2, color: '#222'},
        axisLine: {lineStyle: {color: '#000', width: 1.8}}, axisTick: {length: 5, lineStyle: {color: '#000', width: 1.5}},
        axisLabel: {fontFamily: FONT, fontSize: 19, color: '#333', margin: 13}
    }, {
        type: 'value', min: 0, max: maxV, interval: 0.2, name: yName, nameLocation: 'middle', nameGap: 53,
        nameTextStyle: {fontFamily: FONT, fontSize: 18.5, color: '#222'},
        axisLine: {show: true, lineStyle: {color: '#000', width: 1.8}}, axisTick: {show: true, length: 4, lineStyle: {color: '#000', width: 1.5}},
        axisLabel: {fontFamily: FONT, fontSize: 19, color: '#333', margin: 6, formatter: function (v) { return v.toFixed(1); }},
        splitLine: {show: false}
    });
    [[ntc, ntcErr], [fam, famErr], [upf, upfErr]].forEach(function (pair) {
        overlay(gi, pair[1], function (e, api, i) {
            if (!e) return null;
            var hi = api.coord([i, pair[0][i] + e]), lo = api.coord([i, pair[0][i] - e]);
            return {type: 'group', children: [seg(hi, lo, '#000', 1.4), seg([hi[0] - 3, hi[1]], [hi[0] + 3, hi[1]], '#000', 1.6), seg([lo[0] - 3, lo[1]], [lo[0] + 3, lo[1]], '#000', 1.6)]};
        }, 2);
    });
    function curve(name, values, color, z) {
        series.push({name: name, type: 'line', xAxisIndex: gi, yAxisIndex: gi, data: values, symbol: 'none', silent: true, z: z,
            lineStyle: {color: color, width: 3.8}, itemStyle: {color: color}});
    }
    curve('siNTC', ntc, '#000', 4);
    curve('siFAM120A', fam, RED, 5);
    curve('siFAM120A + siUPF1', upf, LINE_GREEN, 6);
    stars(gi, marks, 27, 16);
    gText(titleX, titleY, title, 26, {bold: true, italic: true, align: 'left', color: '#000'});
}
decay(78, 1104.3, 271, 250.7, 1.4, 'ACSS2', 105, 1125, fNTC, fFAM, fUPF, fNTCerr, fFAMerr, fUPFerr, fMarks, 'mRNA level (Fold change)', 39);
decay(417.4, 1101, 273.6, 254, 1.8, 'ACLY', 446, 1125, gNTC, gFAM, gUPF, gNTCerr, gFAMerr, gUPFerr, gMarks, '', 39);
decay(778.9, 1092.3, 245.7, 262.7, 1.8, 'FASN', 791, 1124, hNTC, hFAM, hUPF, hNTCerr, hFAMerr, hUPFerr, hMarks, '', 39);
decay(1110.6, 1108.3, 268.8, 247.4, 1.4, 'HMGCS1', 1139, 1125, iNTC, iFAM, iUPF, iNTCerr, iFAMerr, iUPFerr, iMarks, '', 39);
decay(77.2, 1493.3, 265.4, 249.4, 1.8, 'MVD', 105, 1514, jNTC, jFAM, jUPF, jNTCerr, jFAMerr, jUPFerr, jMarks, 'mRNA level (Fold change)', 38);
decay(406.8, 1496.7, 270.6, 246, 1.8, 'RPIA', 436, 1514, kNTC, kFAM, kUPF, kNTCerr, kFAMerr, kUPFerr, kMarks, '', 38);
legends.push({
    left: 94.6, top: 1256, orient: 'vertical', padding: 0, itemGap: 12, itemWidth: 27, itemHeight: 5, selectedMode: false,
    textStyle: {fontFamily: FONT, fontSize: 19.5, color: '#222', padding: [0, 0, 0, 5]},
    data: [
        {name: 'siNTC', icon: 'rect', itemStyle: {color: '#000', borderWidth: 0}},
        {name: 'siFAM120A', icon: 'rect', itemStyle: {color: RED, borderWidth: 0}},
        {name: 'siFAM120A + siUPF1', icon: 'rect', itemStyle: {color: LINE_GREEN, borderWidth: 0}}
    ]
});

// ---- panel L
var lCfg = {axisW: 3, tickLen: 10, margin: 13};
var lGi = barAxes(748, 1491.7, 646, 250.3, lGenes, 2.5, 0.5, 1, {fontSize: 17, fontStyle: 'italic', fontWeight: 'bold'}, '#111', {fontSize: 16.5, fontWeight: 'bold'}, 'mRNA level (Fold change)', 42, {fontSize: 18}, lCfg);
bars(lGi, 'siNTC', lNTC, '#000', 16, '33%', 1.6);
bars(lGi, 'siFAM120A', lFAM, RED, 16, '33%', 2);
bars(lGi, 'siFAM120A + siUPF1', lUPF, BAR_GREEN, 16, '33%', 2);
errorDots(lGi, -21.3, lNTCup, lNTCdots, 2.5);
errorDots(lGi, 0, lFAMup, lFAMdots, 2.5);
errorDots(lGi, 21.3, lUPFup, lUPFdots, 2.5);
stars(lGi, lMarks, 17, 13);
barLegend(765, 1486, 7, 24, 16, 18, 'siFAM120A + siUPF1', BAR_GREEN, 2, 7);

var chart = echarts.init(document.getElementById('chart'), null, {renderer: 'canvas'});
chart.setOption({
    animation: false,
    backgroundColor: '#fff',
    textStyle: {fontFamily: FONT},
    tooltip: {show: false},
    grid: grids,
    xAxis: xAxes,
    yAxis: yAxes,
    legend: legends,
    series: series,
    graphic: {elements: gfx}
});
</script>
</body>
</html>
